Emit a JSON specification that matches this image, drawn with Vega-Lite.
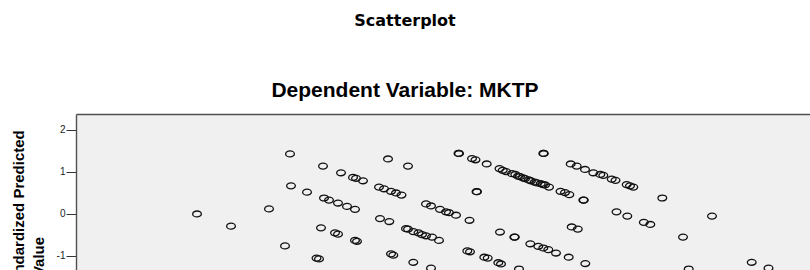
{
  "$schema": "https://vega.github.io/schema/vega-lite/v6.json",
  "autosize": {"type": "none"},
  "padding": {"left": 76, "top": 114, "right": 0, "bottom": 0},
  "width": 734,
  "height": 156,
  "background": "white",
  "view": {"fill": "#f0f0f0", "stroke": null},
  "title": {
    "text": "Scatterplot",
    "subtitle": "Dependent Variable: MKTP",
    "anchor": "middle",
    "dx": -38,
    "offset": 13,
    "font": "DejaVu Sans",
    "fontSize": 16,
    "fontWeight": "bold",
    "color": "#000000",
    "subtitleFont": "Liberation Sans",
    "subtitleFontSize": 21,
    "subtitleFontWeight": "bold",
    "subtitleColor": "#000000",
    "subtitlePadding": 51
  },
  "data": {
    "values": [
      {"x": -2.03, "y": 0.0}, {"x": -1.69, "y": -0.29}, {"x": -1.31, "y": 0.12},
      {"x": -1.10, "y": 1.43}, {"x": -1.09, "y": 0.67}, {"x": -0.93, "y": 0.52},
      {"x": -1.15, "y": -0.76}, {"x": -0.835, "y": -1.05}, {"x": -0.81, "y": -1.07},
      {"x": -0.77, "y": 1.14}, {"x": -0.59, "y": 0.98}, {"x": -0.47, "y": 0.87},
      {"x": -0.44, "y": 0.85}, {"x": -0.37, "y": 0.79}, {"x": -0.12, "y": 1.31},
      {"x": 0.08, "y": 1.14}, {"x": -0.21, "y": 0.64}, {"x": -0.16, "y": 0.60},
      {"x": -0.09, "y": 0.54}, {"x": -0.04, "y": 0.50}, {"x": 0.015, "y": 0.45},
      {"x": -0.76, "y": 0.38}, {"x": -0.71, "y": 0.33}, {"x": -0.62, "y": 0.26},
      {"x": -0.53, "y": 0.18}, {"x": -0.45, "y": 0.11}, {"x": -0.79, "y": -0.33},
      {"x": -0.65, "y": -0.45}, {"x": -0.62, "y": -0.48}, {"x": -0.45, "y": -0.63},
      {"x": -0.43, "y": -0.65}, {"x": -0.20, "y": -0.11}, {"x": -0.107, "y": -0.18},
      {"x": 0.06, "y": -0.35}, {"x": 0.08, "y": -0.36}, {"x": 0.133, "y": -0.42},
      {"x": 0.185, "y": -0.45}, {"x": 0.22, "y": -0.49}, {"x": 0.26, "y": -0.52},
      {"x": 0.32, "y": -0.55}, {"x": 0.39, "y": -0.63}, {"x": -0.09, "y": -0.95},
      {"x": -0.067, "y": -0.98}, {"x": 0.133, "y": -1.15}, {"x": 0.31, "y": -1.29},
      {"x": 0.26, "y": 0.24}, {"x": 0.31, "y": 0.19}, {"x": 0.40, "y": 0.11},
      {"x": 0.46, "y": 0.05}, {"x": 0.49, "y": 0.03}, {"x": 0.56, "y": -0.03},
      {"x": 0.695, "y": -0.15}, {"x": 0.585, "y": 1.44}, {"x": 0.59, "y": 1.44},
      {"x": 0.72, "y": 1.32}, {"x": 0.755, "y": 1.29}, {"x": 0.867, "y": 1.19},
      {"x": 0.995, "y": 1.08}, {"x": 1.027, "y": 1.04}, {"x": 1.06, "y": 1.01},
      {"x": 1.12, "y": 0.96}, {"x": 1.153, "y": 0.94}, {"x": 1.18, "y": 0.90},
      {"x": 1.20, "y": 0.89}, {"x": 1.23, "y": 0.86}, {"x": 1.25, "y": 0.84},
      {"x": 1.287, "y": 0.81}, {"x": 1.31, "y": 0.79}, {"x": 1.347, "y": 0.76},
      {"x": 1.37, "y": 0.74}, {"x": 1.407, "y": 0.72}, {"x": 1.43, "y": 0.70},
      {"x": 1.45, "y": 0.69}, {"x": 1.49, "y": 0.64}, {"x": 0.765, "y": 0.53},
      {"x": 0.77, "y": 0.53}, {"x": 1.433, "y": 1.44}, {"x": 1.438, "y": 1.44},
      {"x": 1.605, "y": 0.54}, {"x": 1.65, "y": 0.51}, {"x": 1.693, "y": 0.46},
      {"x": 1.833, "y": 0.33}, {"x": 1.838, "y": 0.33}, {"x": 1.707, "y": 1.19},
      {"x": 1.767, "y": 1.14}, {"x": 1.85, "y": 1.06}, {"x": 1.933, "y": 0.98},
      {"x": 2.003, "y": 0.94}, {"x": 2.033, "y": 0.92}, {"x": 2.117, "y": 0.83},
      {"x": 2.155, "y": 0.80}, {"x": 2.267, "y": 0.70}, {"x": 2.30, "y": 0.67},
      {"x": 2.333, "y": 0.64}, {"x": 2.623, "y": 0.38}, {"x": 2.165, "y": 0.05},
      {"x": 2.273, "y": -0.05}, {"x": 2.438, "y": -0.20}, {"x": 2.503, "y": -0.25},
      {"x": 3.12, "y": -0.05}, {"x": 2.83, "y": -0.55}, {"x": 1.00, "y": -0.43},
      {"x": 1.143, "y": -0.55}, {"x": 1.148, "y": -0.55}, {"x": 1.303, "y": -0.71},
      {"x": 1.383, "y": -0.77}, {"x": 1.433, "y": -0.81}, {"x": 1.483, "y": -0.85},
      {"x": 1.56, "y": -0.93}, {"x": 1.687, "y": -1.03}, {"x": 1.853, "y": -1.18},
      {"x": 1.717, "y": -0.31}, {"x": 1.778, "y": -0.36}, {"x": 0.673, "y": -0.88},
      {"x": 0.70, "y": -0.90}, {"x": 0.843, "y": -1.03}, {"x": 0.877, "y": -1.05},
      {"x": 0.983, "y": -1.16}, {"x": 1.01, "y": -1.19}, {"x": 1.19, "y": -1.31},
      {"x": 2.887, "y": -1.31}, {"x": 3.517, "y": -1.15}, {"x": 3.685, "y": -1.29}
    ]
  },
  "mark": {
    "type": "point",
    "clip": true,
    "filled": false,
    "shape": "M-1,0A1,0.68,0,1,1,1,0A1,0.68,0,1,1,-1,0Z",
    "size": 76,
    "stroke": "#111111",
    "strokeWidth": 1.3,
    "opacity": 1
  },
  "encoding": {
    "x": {
      "field": "x",
      "type": "quantitative",
      "scale": {"domain": [-3.24, 4.1], "nice": false, "zero": false},
      "axis": {
        "orient": "top",
        "title": null,
        "labels": false,
        "ticks": false,
        "grid": false,
        "domain": true,
        "domainColor": "#505050",
        "domainWidth": 1.4
      }
    },
    "y": {
      "field": "y",
      "type": "quantitative",
      "scale": {"domain": [-1.334, 2.38], "nice": false, "zero": false},
      "axis": {
        "values": [2, 1, 0, -1],
        "labelExpr": "'' + datum.value",
        "grid": false,
        "domain": true,
        "domainColor": "#505050",
        "domainWidth": 1.4,
        "tickColor": "#333333",
        "tickSize": 10,
        "tickWidth": 1,
        "labelFont": "Liberation Sans",
        "labelFontSize": 10,
        "labelColor": "#222222",
        "labelPadding": 1,
        "title": ["Regression Standardized Predicted", "Value"],
        "titleFont": "Liberation Sans",
        "titleFontSize": 15,
        "titleFontWeight": "bold",
        "titleColor": "#000000",
        "titleLineHeight": 20,
        "titleBaseline": "alphabetic",
        "titleX": -53,
        "titleY": 142
      }
    }
  }
}
